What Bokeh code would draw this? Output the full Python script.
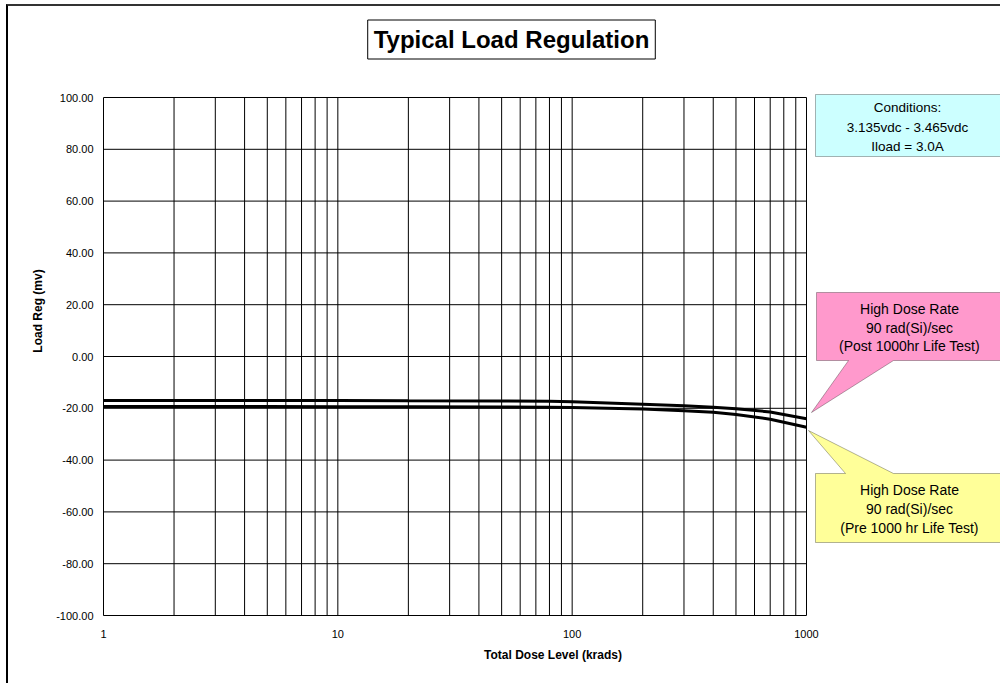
from bokeh.plotting import figure
from bokeh.models import Range1d, FixedTicker, Label, PolyAnnotation
from bokeh.embed import file_html
from bokeh.resources import INLINE

# ---- data ----
dose = [1, 2, 5, 10, 20, 50, 80, 100, 200, 300, 400, 500, 700, 1000]
post_life = [-17.0, -17.0, -17.0, -17.0, -17.1, -17.2, -17.3, -17.5, -18.4, -19.0, -19.6, -20.2, -21.4, -24.0]
pre_life = [-19.3, -19.3, -19.3, -19.4, -19.4, -19.5, -19.6, -19.7, -20.3, -20.9, -21.5, -22.4, -24.2, -27.3]

x_ticks = [1, 10, 100, 1000]
x_tick_labels = ["1", "10", "100", "1000"]
x_minor_ticks = [2, 3, 4, 5, 6, 7, 8, 9, 20, 30, 40, 50, 60, 70, 80, 90,
                 200, 300, 400, 500, 600, 700, 800, 900]
y_ticks = [-100, -80, -60, -40, -20, 0, 20, 40, 60, 80, 100]
y_tick_labels = ["-100.00", "-80.00", "-60.00", "-40.00", "-20.00", "0.00",
                 "20.00", "40.00", "60.00", "80.00", "100.00"]

title_text = "Typical Load Regulation"
x_label = "Total Dose Level (krads)"
y_label = "Load Reg (mv)"
cond_lines = ["Conditions:", "3.135vdc - 3.465vdc", "Iload = 3.0A"]
post_lines = ["High Dose Rate", "90 rad(Si)/sec", "(Post 1000hr Life Test)"]
pre_lines = ["High Dose Rate", "90 rad(Si)/sec", "(Pre 1000 hr Life Test)"]

FONT = "Liberation Sans"
PAGE_W, PAGE_H = 1002, 685
OFFX, OFFY = 8, 6          # canvas origin in page pixels (margin + border)
W, H = PAGE_W - OFFX, PAGE_H - OFFY
FL, FR, FT, FB = 103, 806, 97, 615  # plot-area edges in page pixels
X_MIN, X_MAX = 1, 1000
Y_MIN, Y_MAX = -100, 100

# the frame is extended to the right / top so that the call-outs live inside it
px_per_dec = (FR - FL) / 3.0
x_end = 10 ** (3 + (PAGE_W - FR) / px_per_dec)
px_per_unit = (FB - FT) / (Y_MAX - Y_MIN)
y_end = Y_MAX + (FT - OFFY) / px_per_unit


def sx(px):
    return px - FL


def sy(py):
    return FB - py


p = figure(width=W, height=H, x_axis_type="log",
           x_range=Range1d(X_MIN, x_end), y_range=Range1d(Y_MIN, y_end),
           output_backend="svg", toolbar_location=None, title=None,
           min_border_left=FL - OFFX, min_border_right=0,
           min_border_top=0, min_border_bottom=PAGE_H - FB,
           styles={"margin-left": "6px", "margin-top": "4px",
                   "border-left": "2px solid black", "border-top": "2px solid #333333"})

p.background_fill_color = "white"
p.border_fill_color = "white"
p.outline_line_color = None
p.grid.visible = False

# axes
p.xaxis.ticker = FixedTicker(ticks=x_ticks, minor_ticks=x_minor_ticks)
p.xaxis.major_label_overrides = {t: l for t, l in zip(x_ticks, x_tick_labels)}
p.yaxis.ticker = FixedTicker(ticks=y_ticks)
p.yaxis.major_label_overrides = {t: l for t, l in zip(y_ticks, y_tick_labels)}
p.xaxis.bounds = (X_MIN, X_MAX)
p.yaxis.bounds = (Y_MIN, Y_MAX)

for ax in (p.xaxis, p.yaxis):
    ax.axis_line_color = "black"
    ax.axis_line_width = 1
    ax.major_tick_line_color = None
    ax.minor_tick_line_color = None
    ax.major_tick_out = 0
    ax.major_tick_in = 0
    ax.minor_tick_out = 0
    ax.minor_tick_in = 0
    ax.major_label_text_font = FONT
    ax.major_label_text_font_size = "11px"
    ax.major_label_text_color = "black"
    ax.axis_label_text_font = FONT
    ax.axis_label_text_font_size = "12px"
    ax.axis_label_text_font_style = "bold"
    ax.axis_label_text_color = "black"

p.xaxis.axis_label = x_label
p.yaxis.axis_label = y_label
p.xaxis.major_label_standoff = 14
p.xaxis.axis_label_standoff = 7
p.yaxis.major_label_standoff = 10
p.yaxis.axis_label_standoff = 8

# grid lines of the plot area (incl. its top and right border)
vx = x_ticks + x_minor_ticks
p.segment(x0=vx, x1=vx, y0=[Y_MIN] * len(vx), y1=[Y_MAX] * len(vx),
          line_color="black", line_width=1)
p.segment(x0=[X_MIN] * len(y_ticks), x1=[X_MAX] * len(y_ticks), y0=y_ticks, y1=y_ticks,
          line_color="black", line_width=1)

# data lines
p.line(dose, post_life, line_color="black", line_width=3)
p.line(dose, pre_life, line_color="black", line_width=3)

# title box
p.add_layout(Label(x=sx(511), y=sy(39), x_units="screen", y_units="screen",
                   text=title_text, text_font=FONT, text_font_size="24px",
                   text_font_style="bold", text_color="black",
                   text_align="center", text_baseline="middle",
                   border_line_color="black", border_line_width=1,
                   background_fill_color="white", background_fill_alpha=1,
                   padding=6))

# conditions box
cond_box = [(815, 94), (1100, 94), (1100, 156), (815, 156)]
p.add_layout(PolyAnnotation(xs=[sx(a) for a, b in cond_box], ys=[sy(b) for a, b in cond_box],
                            xs_units="screen", ys_units="screen",
                            fill_color="#CCFFFF", fill_alpha=1,
                            line_color="black", line_width=1))

# post callout (pink)
pink = [(816, 292), (1100, 292), (1100, 360), (893, 360), (811, 412), (848, 360), (816, 360)]
p.add_layout(PolyAnnotation(xs=[sx(a) for a, b in pink], ys=[sy(b) for a, b in pink],
                            xs_units="screen", ys_units="screen",
                            fill_color="#FF99CC", fill_alpha=1,
                            line_color="black", line_width=1))

# pre callout (yellow)
yellow = [(815, 473), (845, 473), (808, 430), (893, 473), (1100, 473), (1100, 542), (815, 542)]
p.add_layout(PolyAnnotation(xs=[sx(a) for a, b in yellow], ys=[sy(b) for a, b in yellow],
                            xs_units="screen", ys_units="screen",
                            fill_color="#FFFF99", fill_alpha=1,
                            line_color="black", line_width=1))


def add_lines(lines, cx, ys, size):
    for t, yy in zip(lines, ys):
        p.add_layout(Label(x=sx(cx), y=sy(yy), x_units="screen", y_units="screen",
                           text=t, text_font=FONT, text_font_size=size,
                           text_color="black", text_align="center",
                           text_baseline="middle"))


add_lines(cond_lines, 907, [107, 127, 146], "13.5px")
add_lines(post_lines, 909, [308, 327, 345], "14px")
add_lines(pre_lines, 909, [489, 508, 527], "14px")

open("out.html", "w").write(file_html(p, INLINE))
